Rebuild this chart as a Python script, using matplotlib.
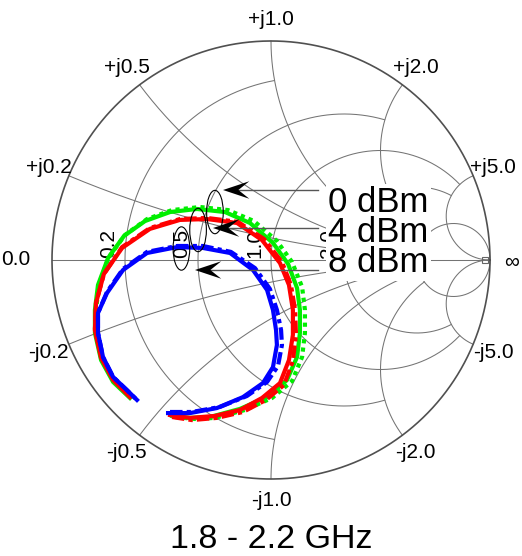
import numpy as np
import matplotlib
matplotlib.use("Agg")
import matplotlib.pyplot as plt
from matplotlib.patches import Ellipse

plt.rcParams['font.family'] = ['Liberation Sans', 'DejaVu Sans']

green_re = [-0.452, -0.370, -0.279, -0.142, -0.018, 0.073, 0.119, 0.132, 0.132, 0.119, 0.078, 0.009,
            -0.096, -0.210, -0.338, -0.461, -0.575, -0.671, -0.744, -0.790, -0.804, -0.804, -0.776, -0.721, -0.644]
green_im = [-0.712, -0.721, -0.717, -0.680, -0.626, -0.548, -0.443, -0.333, -0.228, -0.128, -0.018, 0.078,
            0.169, 0.219, 0.233, 0.219, 0.178, 0.110, 0.009, -0.114, -0.228, -0.333, -0.457, -0.557, -0.630]
green2_re = [-0.438, -0.347, -0.256, -0.119, 0.005, 0.096, 0.142, 0.155, 0.155, 0.142, 0.096, 0.027,
             -0.078, -0.196, -0.324, -0.452, -0.566, -0.667, -0.740, -0.785, -0.799, -0.799, -0.772, -0.717, -0.639]
green2_im = [-0.717, -0.726, -0.721, -0.685, -0.630, -0.553, -0.443, -0.333, -0.228, -0.123, -0.009, 0.087,
             0.178, 0.228, 0.242, 0.228, 0.187, 0.114, 0.014, -0.110, -0.228, -0.333, -0.457, -0.557, -0.630]

red_re = [-0.461, -0.370, -0.256, -0.142, -0.041, 0.041, 0.082, 0.100, 0.100, 0.082, 0.041, -0.041,
          -0.155, -0.292, -0.416, -0.553, -0.680, -0.763, -0.799, -0.804, -0.776, -0.721, -0.644]
red_im = [-0.708, -0.721, -0.712, -0.685, -0.630, -0.562, -0.457, -0.342, -0.228, -0.114, -0.014, 0.091,
          0.169, 0.187, 0.183, 0.142, 0.055, -0.064, -0.196, -0.320, -0.447, -0.548, -0.626]
red2_re = [-0.452, -0.361, -0.247, -0.128, -0.023, 0.059, 0.100, 0.114, 0.110, 0.091, 0.050, -0.032,
           -0.151, -0.292, -0.416, -0.553, -0.680, -0.763, -0.799, -0.804, -0.772, -0.717, -0.639]
red2_im = [-0.717, -0.731, -0.721, -0.694, -0.639, -0.571, -0.461, -0.342, -0.228, -0.114, -0.009, 0.096,
           0.174, 0.192, 0.187, 0.146, 0.059, -0.064, -0.196, -0.320, -0.447, -0.548, -0.626]

blue_re = [-0.470, -0.370, -0.247, -0.128, -0.037, 0.009, 0.027, 0.023, 0.009, -0.018, -0.082, -0.187,
           -0.311, -0.429, -0.566, -0.676, -0.749, -0.790, -0.790, -0.767, -0.721, -0.658, -0.612]
blue_im = [-0.699, -0.699, -0.676, -0.626, -0.562, -0.489, -0.388, -0.320, -0.228, -0.137, -0.046, 0.032,
           0.055, 0.059, 0.032, -0.046, -0.151, -0.242, -0.333, -0.443, -0.534, -0.594, -0.639]
blue2_re = [-0.461, -0.361, -0.233, -0.110, -0.018, 0.032, 0.050, 0.046, 0.027, -0.005, -0.073, -0.183,
            -0.311, -0.429, -0.566, -0.676, -0.749, -0.790, -0.790, -0.767, -0.721, -0.658, -0.612]
blue2_im = [-0.694, -0.694, -0.671, -0.621, -0.557, -0.484, -0.388, -0.320, -0.228, -0.132, -0.037, 0.037,
            0.064, 0.064, 0.037, -0.041, -0.146, -0.242, -0.333, -0.443, -0.534, -0.594, -0.639]

# grid values and how far each grid line runs
r_vals = [0.2, 0.5, 1.0, 2.0, 5.0]
r_xmax = [1.0, 2.0, 5.0, 5.0, np.inf]
x_vals = [0.2, 0.5, 1.0, 2.0, 5.0]
x_rmax = [5.0, 5.0, 5.0, 5.0, np.inf]
r_labels = ['0.2', '0.5', '1.0', '2.0', '5.0']
x_labels = ['0.2', '0.5', '1.0', '2.0', '5.0']

power_labels = ['0 dBm', '4 dBm', '8 dBm']
label_y = [0.2205, 0.0836, -0.0534]
arrow_y = [0.3196, 0.146, -0.0457]
arrow_tip = [-0.219, -0.265, -0.347]
ell_x = [-0.256, -0.333, -0.409]
ell_y = [0.219, 0.137, 0.0525]

GRID = '#747474'

fig = plt.figure(figsize=(5.22, 5.56), dpi=100)
ax = fig.add_axes([0, 0, 1, 1])
ax.set_xlim(-1.2374, 1.1461)
ax.set_ylim(-1.3516, 1.1872)
ax.axis('off')


def r_circle(r, xmax):
    c, rho = r/(1+r), 1/(1+r)
    phi = np.linspace(1e-4, 2*np.pi-1e-4, 3000)
    g = c + rho*np.exp(1j*phi)
    z = (1+g)/(1-g)
    m = np.abs(z.imag) <= xmax
    return g[m]


def x_arc(x, rmax):
    cen = 1 + 1j/x
    phi = np.linspace(np.pi/2+1e-4, 3*np.pi/2-1e-4, 3000)
    g = cen + abs(1/x)*np.exp(1j*phi)
    z = (1+g)/(1-g+1e-12)
    m = (np.abs(g) <= 1.0) & (z.real <= rmax)
    return g[m]


for r, xm in zip(r_vals, r_xmax):
    g = r_circle(r, xm)
    ax.plot(g.real, g.imag, color=GRID, lw=0.75, zorder=1)
for x, rm in zip(x_vals, x_rmax):
    for s in (1, -1):
        g = x_arc(s*x, rm)
        ax.plot(g.real, g.imag, color=GRID, lw=0.75, zorder=1)
ax.plot([-1, 1], [0, 0], color=GRID, lw=0.75, zorder=1)
t = np.linspace(0, 2*np.pi, 400)
ax.plot(np.cos(t), np.sin(t), color='#505050', lw=1.2, zorder=1)
ax.plot([0.975], [0], marker='s', ms=5, mfc='none', mec='#666666', mew=0.8, zorder=1)

# labels on the rim
for x, lab in zip(x_vals, x_labels):
    for s, sign in ((1, '+j'), (-1, '-j')):
        g = (1j*s*x - 1)/(1j*s*x + 1)
        ax.text(1.1*g.real, 1.1*g.imag, sign + lab, fontsize=15, ha='center', va='center', zorder=2)
ax.text(-1.165, 0, '0.0', fontsize=15, ha='center', va='center', zorder=2)
ax.text(1.1, -0.01, '\u221e', fontsize=15, ha='center', va='center', zorder=2)
for r, lab in zip(r_vals, r_labels):
    ax.text((r-1)/(r+1) - 0.073, 0.009, lab, fontsize=15, rotation=90,
            ha='center', va='bottom', zorder=2)

# traces
ax.plot(green2_re, green2_im, color='#00ee00', lw=3.0, ls=(0, (1, 1)), zorder=3)
ax.plot(green_re, green_im, color='#00ee00', lw=3.0, zorder=3)
ax.plot(red2_re, red2_im, color='#ff0000', lw=3.0, ls=(0, (3, 1, 1, 1)), zorder=4)
ax.plot(red_re, red_im, color='#ff0000', lw=3.0, zorder=4)
ax.plot(blue2_re, blue2_im, color='#0000ff', lw=3.0, ls=(0, (3, 1, 1, 1)), zorder=5)
ax.plot(blue_re, blue_im, color='#0000ff', lw=3.0, zorder=5)

# ellipses
for ex, ey in zip(ell_x, ell_y):
    ax.add_patch(Ellipse((ex, ey), 0.076, 0.198, fill=False, ec='black', lw=0.8, zorder=6))

# arrows and power labels
L, hw, notch = 0.12, 0.04, 0.05
for lab, ly, ay, tip in zip(power_labels, label_y, arrow_y, arrow_tip):
    ax.plot([tip + L - notch, 0.2146], [ay, ay], color='#555555', lw=1.0, zorder=6)
    ax.fill([tip, tip + L, tip + L - notch, tip + L], [ay, ay + hw, ay, ay - hw],
            color='black', lw=0, zorder=7)
    ax.text(0.262, ly, lab, fontsize=25, ha='left', va='baseline', zorder=8,
            bbox=dict(facecolor='white', edgecolor='none', pad=1.5))

ax.text(0, -1.315, '1.8 - 2.2 GHz', fontsize=24.5, ha='center', va='baseline')

fig.savefig('out.png', dpi=100)
